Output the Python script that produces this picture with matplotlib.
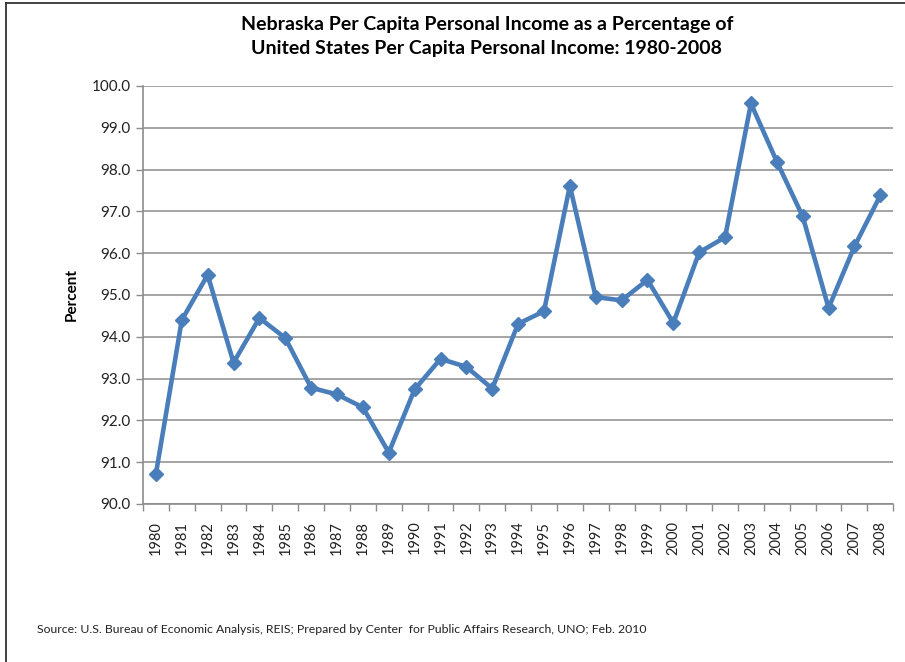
"""Nebraska per capita personal income as a share of the US figure, 1980-2008."""

import matplotlib

matplotlib.use("Agg")
import matplotlib.pyplot as plt  # noqa: E402
from matplotlib.lines import Line2D  # noqa: E402
from matplotlib.ticker import FixedLocator, FormatStrFormatter  # noqa: E402

YEARS = [str(y) for y in range(1980, 2009)]
PERCENT = [
    90.72, 94.40, 95.48, 93.38, 94.45, 93.97, 92.78, 92.62, 92.31, 91.23,
    92.74, 93.47, 93.28, 92.76, 94.31, 94.61, 97.61, 94.95, 94.87, 95.36,
    94.33, 96.02, 96.38, 99.58, 98.19, 96.88, 94.69, 96.16, 97.38,
]
Y_TICKS = [90 + i for i in range(11)]

TITLE = ("Nebraska Per Capita Personal Income as a Percentage of\n"
         "United States Per Capita Personal Income: 1980-2008")
SOURCE = ("Source: U.S. Bureau of Economic Analysis, REIS; Prepared by Center  "
          "for Public Affairs Research, UNO; Feb. 2010")

BLUE = "#4a7ebb"
GRID = "#8c8c8c"

plt.rcParams["font.family"] = ["Lato", "DejaVu Sans"]

fig = plt.figure(figsize=(9.05, 6.62), dpi=100)
ax = fig.add_axes([0.158, 0.2387, 0.829, 0.6315])

x = list(range(len(YEARS)))
ax.plot(x, PERCENT, color=BLUE, lw=3.3, marker="D", ms=6.8, zorder=3)

ax.set_xlim(-0.5, len(YEARS) - 0.5)
ax.set_ylim(90, 100)
ax.set_yticks(Y_TICKS)
ax.yaxis.set_major_formatter(FormatStrFormatter("%.1f"))
ax.set_xticks(x)
ax.set_xticklabels(YEARS, rotation=90, fontsize=10.5, color="#222222")
ax.xaxis.set_minor_locator(FixedLocator([i - 0.5 for i in range(len(YEARS) + 1)]))
ax.tick_params(axis="x", which="major", length=0, pad=12)
ax.tick_params(axis="x", which="minor", length=5, color=GRID, width=1)
ax.tick_params(axis="y", length=5, color=GRID, width=1, labelsize=11,
               labelcolor="#222222", pad=4)

ax.grid(axis="y", color=GRID, lw=1.1)
ax.set_axisbelow(True)
for side in ("top", "right"):
    ax.spines[side].set_visible(False)
for side in ("left", "bottom"):
    ax.spines[side].set_color(GRID)
    ax.spines[side].set_linewidth(1.2)

ax.set_ylabel("Percent", fontsize=11, fontweight="bold")
ax.yaxis.set_label_coords(-0.085, 0.5)

fig.text(0.538, 0.945, TITLE, ha="center", va="center", fontsize=14,
         fontweight="bold", linespacing=1.45)
fig.text(0.041, 0.049, SOURCE, ha="left", va="center", fontsize=8.8,
         color="#222222")

# chart-area frame: only the top and left edges show in the original crop
fig.add_artist(Line2D([0.0066, 0.0066], [0.0, 0.995], transform=fig.transFigure,
                      color="#333333", lw=1.3))
fig.add_artist(Line2D([0.0066, 1.0], [0.995, 0.995], transform=fig.transFigure,
                      color="#333333", lw=1.3))

fig.savefig("out.png", dpi=100)
